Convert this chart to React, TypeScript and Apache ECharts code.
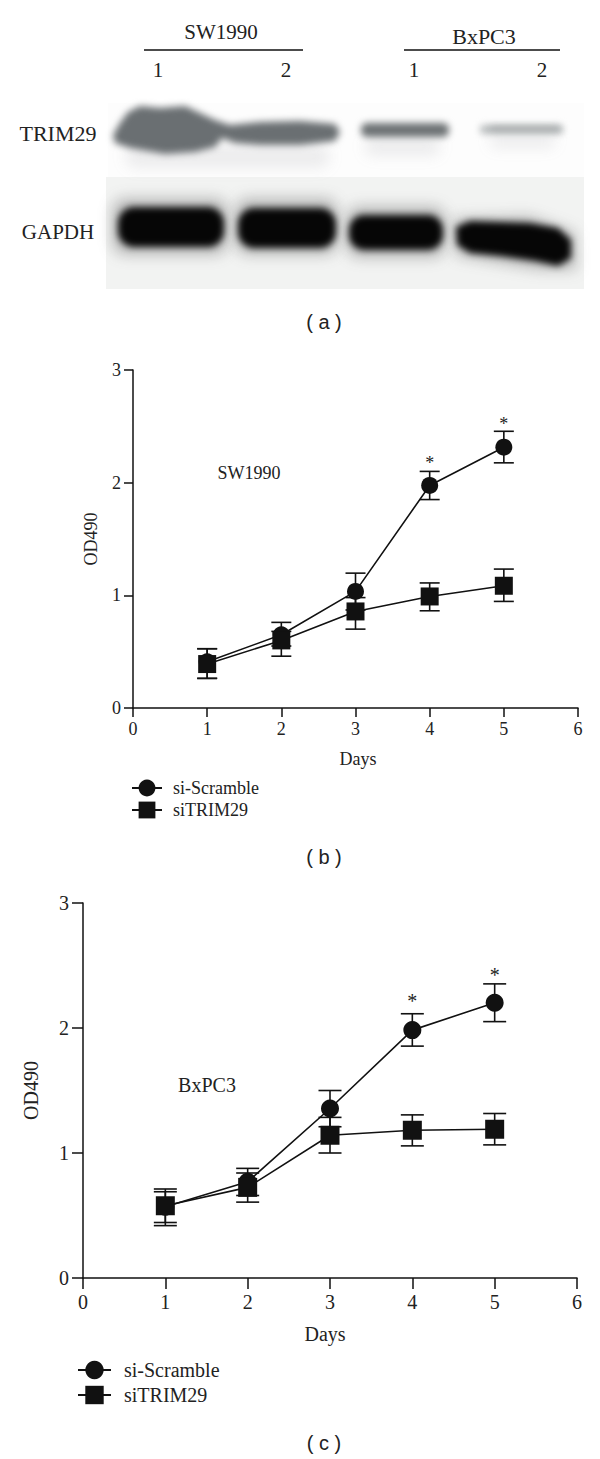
import React, { useEffect, useRef } from "react";
import * as echarts from "echarts";

const SERIF = "'Liberation Serif', serif";
const SANS = "'Liberation Sans', sans-serif";
const INK = "#111111";

const days = [1, 2, 3, 4, 5];
const xTicks = [0, 1, 2, 3, 4, 5, 6];
const yTicks = [0, 1, 2, 3];

const swScramble = [0.41, 0.65, 1.035, 1.975, 2.315];
const swScrambleLow = [0.263, 0.55, 0.87, 1.85, 2.176];
const swScrambleHigh = [0.526, 0.76, 1.197, 2.1, 2.456];
const swSi = [0.39, 0.6, 0.857, 0.99, 1.085];
const swSiLow = [0.263, 0.46, 0.7, 0.863, 0.946];
const swSiHigh = [0.526, 0.68, 0.98, 1.11, 1.233];

const bxScramble = [0.57, 0.77, 1.356, 1.983, 2.202];
const bxScrambleLow = [0.419, 0.66, 1.21, 1.855, 2.051];
const bxScrambleHigh = [0.712, 0.877, 1.5, 2.114, 2.353];
const bxSi = [0.578, 0.725, 1.142, 1.182, 1.19];
const bxSiLow = [0.444, 0.607, 1.0, 1.057, 1.065];
const bxSiHigh = [0.69, 0.84, 1.285, 1.305, 1.316];

const starDays = [4, 5];
const swStars = [2.21, 2.556];
const bxStars = [2.245, 2.455];

const SCRAMBLE = "si-Scramble";
const SI = "siTRIM29";

function polygon(ctx: CanvasRenderingContext2D, pts: number[][]) {
  ctx.beginPath();
  pts.forEach((p, i) => (i ? ctx.lineTo(p[0], p[1]) : ctx.moveTo(p[0], p[1])));
  ctx.closePath();
  ctx.fill();
}

function capsule(ctx: CanvasRenderingContext2D, x0: number, y0: number, x1: number, y1: number, r: number) {
  ctx.beginPath();
  ctx.roundRect(x0, y0, x1 - x0, y1 - y0, r);
  ctx.fill();
}

function blotImage(): string {
  const c = document.createElement("canvas");
  c.width = 600;
  c.height = 300;
  const ctx = c.getContext("2d")!;
  ctx.fillStyle = "#fdfdfd";
  ctx.fillRect(108, 103, 476, 75);
  ctx.fillStyle = "#f2f3f2";
  ctx.fillRect(106, 177, 478, 112);

  ctx.filter = "blur(7px)";
  ctx.fillStyle = "rgba(120,125,128,0.13)";
  capsule(ctx, 125, 145, 330, 168, 12);
  capsule(ctx, 365, 137, 440, 156, 8);
  capsule(ctx, 490, 134, 555, 148, 6);
  ctx.fillStyle = "rgba(60,60,60,0.3)";
  capsule(ctx, 112, 198, 228, 255, 14);
  capsule(ctx, 235, 198, 338, 255, 14);
  capsule(ctx, 346, 206, 446, 258, 14);
  polygon(ctx, [[454, 218], [530, 216], [575, 232], [576, 270], [540, 270], [456, 256]]);

  ctx.filter = "blur(3.5px)";
  ctx.fillStyle = "#6a6f72";
  polygon(ctx, [
    [113, 135], [120, 123], [128, 112], [140, 106], [160, 108], [185, 106], [200, 113], [215, 120],
    [230, 125], [260, 122], [300, 121], [335, 124], [340, 132], [335, 141], [300, 145], [260, 145],
    [235, 143], [222, 138], [215, 147], [195, 152], [165, 154], [130, 148], [115, 143],
  ]);
  ctx.fillStyle = "#6d7274";
  capsule(ctx, 361, 123, 449, 137, 6);
  ctx.fillStyle = "#b8bcbd";
  capsule(ctx, 480, 125, 563, 134, 4);
  ctx.fillStyle = "#979b9c";
  capsule(ctx, 490, 127, 560, 130, 1);

  ctx.fillStyle = "#060606";
  capsule(ctx, 118, 207, 224, 247, 16);
  capsule(ctx, 238, 208, 336, 248, 16);
  capsule(ctx, 349, 215, 443, 250, 15);
  polygon(ctx, [
    [456, 227], [470, 221], [530, 223], [558, 228], [571, 240], [571, 258], [558, 266], [535, 261],
    [500, 256], [470, 253], [457, 245],
  ]);
  return c.toDataURL("image/png");
}

function errorSeries(name: string, axis: number, low: number[], high: number[], capHalf: number) {
  return {
    type: "custom",
    name,
    xAxisIndex: axis,
    yAxisIndex: axis,
    silent: true,
    z: 2,
    data: days.map((d, i) => [d, low[i], high[i]]),
    encode: { x: 0, y: [1, 2] },
    renderItem: (_p: any, api: any) => {
      const lo = api.coord([api.value(0), api.value(1)]);
      const hi = api.coord([api.value(0), api.value(2)]);
      const style = { stroke: INK, lineWidth: 1.6, fill: "none" };
      const seg = (x1: number, y1: number, x2: number, y2: number) => ({
        type: "line",
        shape: { x1, y1, x2, y2 },
        style,
      });
      return {
        type: "group",
        children: [
          seg(lo[0], lo[1], hi[0], hi[1]),
          seg(lo[0] - capHalf, lo[1], lo[0] + capHalf, lo[1]),
          seg(hi[0] - capHalf, hi[1], hi[0] + capHalf, hi[1]),
        ],
      };
    },
  };
}

function lineSeries(name: string, axis: number, values: number[], symbol: string, size: number) {
  return {
    type: "line",
    name,
    xAxisIndex: axis,
    yAxisIndex: axis,
    z: 3,
    symbol,
    symbolSize: size,
    showSymbol: true,
    lineStyle: { color: INK, width: 1.6 },
    itemStyle: { color: INK, borderWidth: 0 },
    data: days.map((d, i) => [d, values[i]]),
  };
}

function starSeries(axis: number, values: number[], fontSize: number) {
  return {
    type: "custom",
    name: "significant",
    xAxisIndex: axis,
    yAxisIndex: axis,
    z: 4,
    silent: true,
    data: starDays.map((d, i) => [d, values[i]]),
    encode: { x: 0, y: 1 },
    renderItem: (_p: any, api: any) => {
      const pt = api.coord([api.value(0), api.value(1)]);
      return {
        type: "text",
        x: pt[0],
        y: pt[1] + fontSize * 0.2,
        style: {
          text: "*",
          fontFamily: SERIF,
          fontSize,
          fill: "#222222",
          textAlign: "center",
          textVerticalAlign: "middle",
        },
      };
    },
  };
}

function axes(index: number, font: number, tick: number, nameGapX: number, nameGapY: number, padX: number[]) {
  const line = { lineStyle: { color: INK, width: 1.5 } };
  const label = { fontFamily: SERIF, fontSize: font, color: "#222222" };
  return {
    x: {
      type: "value",
      gridIndex: index,
      min: xTicks[0],
      max: xTicks[xTicks.length - 1],
      interval: 1,
      splitLine: { show: false },
      axisLine: { onZero: false, ...line },
      axisTick: { length: tick, ...line },
      axisLabel: { ...label, margin: tick + 3 },
      name: "Days",
      nameLocation: "middle",
      nameGap: nameGapX,
      nameTextStyle: { ...label, padding: padX },
    },
    y: {
      type: "value",
      gridIndex: index,
      min: yTicks[0],
      max: yTicks[yTicks.length - 1],
      interval: 1,
      splitLine: { show: false },
      axisLine: { onZero: false, ...line },
      axisTick: { length: tick, ...line },
      axisLabel: { ...label, margin: tick + 3 },
      name: "OD490",
      nameLocation: "middle",
      nameGap: nameGapY,
      nameTextStyle: { ...label },
    },
  };
}

function legend(left: number, top: number, font: number, gap: number, height: number, width: number, pad: number) {
  return {
    orient: "vertical",
    left,
    top,
    padding: 0,
    itemWidth: width,
    itemHeight: height,
    itemGap: gap,
    selectedMode: false,
    data: [SCRAMBLE, SI],
    textStyle: { fontFamily: SERIF, fontSize: font, color: "#222222", padding: [0, 0, 0, pad] },
  };
}

const text = (t: string, x: number, y: number, size: number, family = SERIF, extra: any = {}) => ({
  type: "text",
  x,
  y,
  style: {
    text: t,
    fontFamily: family,
    fontSize: size,
    fill: "#222222",
    textAlign: "center",
    textVerticalAlign: "middle",
    ...extra,
  },
});

const rule = (x1: number, x2: number, y: number) => ({
  type: "line",
  shape: { x1, y1: y, x2, y2: y },
  style: { stroke: "#111111", lineWidth: 1.5 },
});

export default function App() {
  const ref = useRef<HTMLDivElement>(null);
  useEffect(() => {
    const chart = echarts.init(ref.current!, null, { renderer: "svg" });
    const b = axes(0, 18, 9, 42, 33, [0, 0, 0, 5]);
    const c = axes(1, 20, 11, 46, 42, [0, 10, 0, 0]);
    chart.setOption({
      animation: false,
      backgroundColor: "#ffffff",
      grid: [
        { left: 133, top: 370, width: 445, height: 338 },
        { left: 83, top: 903, width: 494, height: 375 },
      ],
      xAxis: [b.x, c.x],
      yAxis: [b.y, c.y],
      legend: [legend(131, 779, 18, 4, 21, 30, 6), legend(77, 1360, 20, 5, 23, 33, 8)],
      series: [
        errorSeries("si-Scramble error", 0, swScrambleLow, swScrambleHigh, 10),
        lineSeries(SCRAMBLE, 0, swScramble, "circle", 17),
        errorSeries("siTRIM29 error", 0, swSiLow, swSiHigh, 10),
        lineSeries(SI, 0, swSi, "rect", 18),
        starSeries(0, swStars, 18),
        errorSeries("si-Scramble error c", 1, bxScrambleLow, bxScrambleHigh, 11.5),
        lineSeries(SCRAMBLE, 1, bxScramble, "circle", 18),
        errorSeries("siTRIM29 error c", 1, bxSiLow, bxSiHigh, 11.5),
        lineSeries(SI, 1, bxSi, "rect", 19),
        starSeries(1, bxStars, 20),
      ],
      graphic: [
        {
          type: "image",
          x: 0,
          y: 0,
          z: 0,
          style: { image: blotImage(), x: 0, y: 0, width: 600, height: 300 },
        },
        rule(144, 303, 50),
        rule(404, 560, 50),
        text("SW1990", 221, 32, 21),
        text("BxPC3", 484, 36, 22),
        text("1", 158, 70, 21),
        text("2", 286, 70, 21),
        text("1", 414, 70, 21),
        text("2", 542, 70, 21),
        text("TRIM29", 58, 133, 22),
        text("GAPDH", 58, 232, 21),
        text("( a )", 324, 322, 20, SANS),
        text("SW1990", 249, 473, 18),
        text("( b )", 324, 857, 20, SANS),
        text("BxPC3", 207, 1085, 20),
        text("( c )", 324, 1443, 20, SANS),
      ],
    });
    return () => chart.dispose();
  }, []);
  return (
    <div
      ref={ref}
      style={{ position: "absolute", left: 0, top: 0, width: 600, height: 1459, background: "#fff" }}
    />
  );
}
